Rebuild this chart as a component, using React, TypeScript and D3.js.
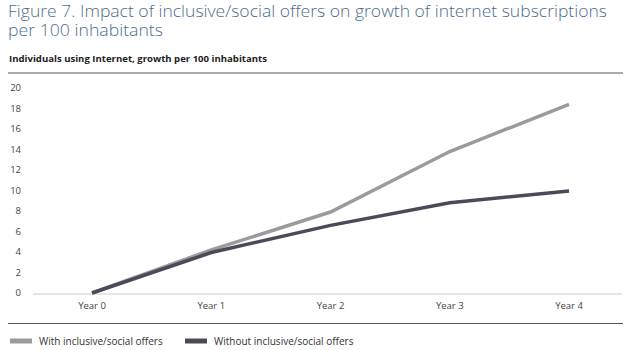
import * as d3 from 'd3';

const years = ['Year 0', 'Year 1', 'Year 2', 'Year 3', 'Year 4'];
const withOffers = [0, 4.2, 7.9, 13.8, 18.4];
const withoutOffers = [0, 3.95, 6.6, 8.8, 9.95];
const yTicks = [0, 2, 4, 6, 8, 10, 12, 14, 16, 18, 20];

const seriesNames = ['With inclusive/social offers', 'Without inclusive/social offers'];
const seriesColors = ['#9b9b9f', '#4a4a58'];

const W = 633;
const H = 350;
const FONT = '"Open Sans", "DejaVu Sans", sans-serif';

export default function App() {
    const y = d3.scaleLinear().domain([0, 20]).range([293, 88]);
    const x = d3.scalePoint<string>().domain(years).range([92, 569]);
    const xLegend = d3.scalePoint<string>().domain(seriesNames).range([10, 185]);

    const line = d3
        .line<number>()
        .x((_, i) => x(years[i]) as number)
        .y((d) => y(d));

    const all = [withOffers, withoutOffers];

    return (
        <svg
            width={W}
            height={H}
            style={{ position: 'absolute', left: 0, top: 0, background: '#fff' }}
            fontFamily={FONT}
        >
            <text
                x={8}
                y={17}
                fontSize={16.5}
                fill="#4d6d8e"
                fontWeight={300}
                textLength={599}
                lengthAdjust="spacingAndGlyphs"
            >
                Figure 7. Impact of inclusive/social offers on growth of internet subscriptions
            </text>
            <text
                x={8}
                y={36}
                fontSize={16.5}
                fill="#4d6d8e"
                fontWeight={300}
                textLength={155}
                lengthAdjust="spacingAndGlyphs"
            >
                per 100 inhabitants
            </text>
            <text
                x={9}
                y={62}
                fontSize={9.2}
                fontWeight={700}
                fill="#222"
                textLength={258}
                lengthAdjust="spacingAndGlyphs"
            >
                Individuals using Internet, growth per 100 inhabitants
            </text>
            <line x1={8} x2={623} y1={73} y2={73} stroke="#555" strokeWidth={1} />

            {yTicks.map((t) => (
                <text
                    key={t}
                    x={21}
                    y={y(t)}
                    dy="0.35em"
                    textAnchor="end"
                    fontSize={9.5}
                    fill="#444"
                >
                    {t}
                </text>
            ))}
            <line x1={33} x2={622} y1={y(0) + 1} y2={y(0) + 1} stroke="#ddd" strokeWidth={1.5} />

            {years.map((yr) => (
                <text
                    key={yr}
                    x={x(yr)}
                    y={309}
                    textAnchor="middle"
                    fontSize={9.5}
                    fill="#444"
                >
                    {yr}
                </text>
            ))}

            {all.map((vals, i) => (
                <path
                    key={seriesNames[i]}
                    d={line(vals) ?? ''}
                    fill="none"
                    stroke={seriesColors[i]}
                    strokeWidth={3.5}
                />
            ))}

            <line x1={8} x2={623} y1={323.5} y2={323.5} stroke="#555" strokeWidth={1} />

            {seriesNames.map((name, i) => (
                <g key={name} transform={`translate(${xLegend(name)},341)`}>
                    <rect x={0} y={-2.5} width={22} height={5} fill={seriesColors[i]} />
                    <text x={29} y={0} dy="0.35em" fontSize={10} fill="#333">
                        {name}
                    </text>
                </g>
            ))}
        </svg>
    );
}
